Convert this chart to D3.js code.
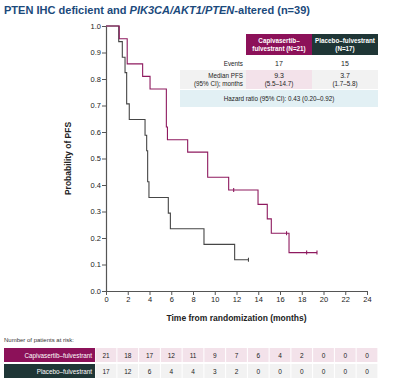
<!DOCTYPE html>
<html>
<head>
<meta charset="utf-8">
<script src="https://cdn.jsdelivr.net/npm/d3@7"></script>
<style>
  body { margin: 0; background: #fff; }
  svg { font-family: "Liberation Sans", Arial, sans-serif; }
</style>
</head>
<body>
<div id="chart"></div>
<script>
// Kaplan-Meier steps: [time, survival after step]
const capiSteps = [[0, 1], [1.22, 0.952], [1.95, 0.857], [3.37, 0.81], [4.05, 0.762],
    [5.55, 0.619], [5.65, 0.571], [7.51, 0.524], [9.35, 0.429], [11.28, 0.381],
    [13.98, 0.327], [14.83, 0.272], [15.2, 0.218], [16.83, 0.145], [19.4, 0.145]];
const capiCensor = [[11.74, 0.381], [16.6, 0.218], [18.45, 0.145], [19.4, 0.145]];

const placeboSteps = [[0, 1], [1.17, 0.941], [1.5, 0.882], [1.75, 0.824], [1.9, 0.706],
    [2.14, 0.647], [3.59, 0.588], [3.74, 0.529], [3.83, 0.412], [3.95, 0.353],
    [5.73, 0.294], [5.92, 0.235], [9.01, 0.176], [11.83, 0.118], [13.1, 0.118]];
const placeboCensor = [[13.1, 0.118]];

const xTicks = d3.range(0, 25, 2);
const yTicks = d3.range(0, 1.01, 0.1);

const riskGroups = ["Capivasertib–fulvestrant", "Placebo–fulvestrant"];
const capiAtRisk = [21, 18, 17, 12, 11, 9, 7, 6, 4, 2, 0, 0, 0];
const placeboAtRisk = [17, 12, 6, 4, 4, 3, 2, 0, 0, 0, 0, 0, 0];

const headers = [["Capivasertib–", "fulvestrant (N=21)"], ["Placebo–fulvestrant", "(N=17)"]];
const eventCounts = ["17", "15"];
const medianPFS = [["9.3", "(5.5–14.7)"], ["3.7", "(1.7–5.8)"]];
const hazardText = "Hazard ratio (95% CI): 0.43 (0.20–0.92)";

const magenta = "#8c1159";
const teal = "#1f3636";
const capiLine = "#8e1a5f";
const placeboLine = "#464646";

const W = 401, H = 384;
const svg = d3.select("#chart").append("svg")
    .attr("width", W).attr("height", H);

// scales
const x = d3.scaleLinear().domain([0, 24]).range([106, 367]);
const y = d3.scaleLinear().domain([0, 1]).range([291, 26]);

// title
const title = svg.append("text")
    .attr("x", 4).attr("y", 14)
    .attr("fill", "#1b4a7c")
    .style("font-size", "11.5px").style("font-weight", "bold")
    .attr("textLength", 306).attr("lengthAdjust", "spacingAndGlyphs");
title.append("tspan").text("PTEN IHC deficient and ");
title.append("tspan").style("font-style", "italic").text("PIK3CA/AKT1/PTEN");
title.append("tspan").text("-altered (n=39)");

// axes
const xAxis = svg.append("g")
    .attr("transform", `translate(0,${y(0)})`)
    .call(d3.axisBottom(x).tickValues(xTicks).tickSize(4).tickSizeOuter(0).tickFormat(d3.format("d")));
const yAxis = svg.append("g")
    .attr("transform", `translate(${x(0)},0)`)
    .call(d3.axisLeft(y).tickValues(yTicks).tickSize(4).tickSizeOuter(0).tickFormat(d3.format(".1f")));

[xAxis, yAxis].forEach(g => {
    g.select(".domain").attr("stroke", "#555").attr("stroke-width", 1.2);
    g.selectAll(".tick line").attr("stroke", "#555");
    g.selectAll(".tick text").attr("fill", "#222").style("font-size", "7.5px")
        .style("font-family", "Liberation Sans, Arial, sans-serif");
});
yAxis.selectAll(".tick text").attr("x", -5);
xAxis.selectAll(".tick text").attr("y", 6);

svg.append("text")
    .attr("x", (x(0) + x(24)) / 2).attr("y", 321)
    .attr("text-anchor", "middle")
    .style("font-size", "8.5px").style("font-weight", "bold").attr("fill", "#222")
    .text("Time from randomization (months)");

svg.append("text")
    .attr("transform", `translate(71,${(y(0) + y(1)) / 2}) rotate(-90)`)
    .attr("text-anchor", "middle")
    .style("font-size", "8.5px").style("font-weight", "bold").attr("fill", "#222")
    .text("Probability of PFS");

// KM curves
const line = d3.line().x(d => x(d[0])).y(d => y(d[1])).curve(d3.curveStepAfter);

svg.append("path").datum(placeboSteps)
    .attr("d", line).attr("fill", "none")
    .attr("stroke", placeboLine).attr("stroke-width", 1.1);
svg.append("path").datum(capiSteps)
    .attr("d", line).attr("fill", "none")
    .attr("stroke", capiLine).attr("stroke-width", 1.1);

function drawCensor(data, color) {
    svg.selectAll(null).data(data).enter().append("line")
        .attr("x1", d => x(d[0])).attr("x2", d => x(d[0]))
        .attr("y1", d => y(d[1]) - 2).attr("y2", d => y(d[1]) + 2)
        .attr("stroke", color).attr("stroke-width", 1.1);
}
drawCensor(capiCensor, capiLine);
drawCensor(placeboCensor, placeboLine);

// summary table
const colX = [246, 312];
const colW = 66;
const labelRight = 243;
const tbl = svg.append("g");

headers.forEach((h, i) => {
    tbl.append("rect").attr("x", colX[i]).attr("y", 34).attr("width", colW).attr("height", 21)
        .attr("fill", i === 0 ? magenta : teal);
    h.forEach((t, j) => {
        tbl.append("text").attr("x", colX[i] + colW / 2).attr("y", 43 + j * 8)
            .attr("text-anchor", "middle").attr("fill", "#fff")
            .style("font-size", "6.3px").style("font-weight", "bold").text(t);
    });
});

tbl.append("text").attr("x", labelRight).attr("y", 66).attr("text-anchor", "end")
    .style("font-size", "6.3px").attr("fill", "#222").text("Events");
eventCounts.forEach((t, i) => {
    tbl.append("text").attr("x", colX[i] + colW / 2).attr("y", 66).attr("text-anchor", "middle")
        .style("font-size", "7px").attr("fill", "#222").text(t);
});

tbl.append("rect").attr("x", 180).attr("y", 70).attr("width", 66).attr("height", 19).attr("fill", "#f2f2f2");
tbl.append("rect").attr("x", colX[0]).attr("y", 70).attr("width", colW).attr("height", 19).attr("fill", "#f3e2ea");
tbl.append("rect").attr("x", colX[1]).attr("y", 70).attr("width", colW).attr("height", 19).attr("fill", "#f2f2f2");
["Median PFS", "(95% CI); months"].forEach((t, j) => {
    tbl.append("text").attr("x", labelRight).attr("y", 78 + j * 8).attr("text-anchor", "end")
        .style("font-size", "6.3px").attr("fill", "#222").text(t);
});
medianPFS.forEach((m, i) => {
    m.forEach((t, j) => {
        tbl.append("text").attr("x", colX[i] + colW / 2).attr("y", 78 + j * 8).attr("text-anchor", "middle")
            .style("font-size", j === 0 ? "7px" : "6.3px").attr("fill", "#222").text(t);
    });
});

tbl.append("rect").attr("x", 180).attr("y", 90).attr("width", 198).attr("height", 17).attr("fill", "#e2f0f4");
tbl.append("text").attr("x", 279).attr("y", 101).attr("text-anchor", "middle")
    .style("font-size", "6.3px").attr("fill", "#222").text(hazardText);

// number at risk
svg.append("text").attr("x", 4).attr("y", 342)
    .style("font-size", "6px").attr("fill", "#333").text("Number of patients at risk:");

const riskRows = [capiAtRisk, placeboAtRisk];
const rowY = [348, 364];
const rowH = 14;
const cellW = x(2) - x(0);
riskRows.forEach((vals, r) => {
    svg.append("rect").attr("x", 4).attr("y", rowY[r]).attr("width", 91).attr("height", rowH)
        .attr("fill", r === 0 ? magenta : teal);
    svg.append("text").attr("x", 92).attr("y", rowY[r] + 9.5).attr("text-anchor", "end")
        .attr("fill", "#fff").style("font-size", "6.3px").text(riskGroups[r]);
    svg.selectAll(null).data(vals).enter().append("rect")
        .attr("x", (d, i) => x(xTicks[i]) - cellW / 2 + 0.5)
        .attr("y", rowY[r]).attr("width", cellW - 1).attr("height", rowH)
        .attr("fill", r === 0 ? "#f3e2ea" : "#f2f2f2");
    svg.selectAll(null).data(vals).enter().append("text")
        .attr("x", (d, i) => x(xTicks[i])).attr("y", rowY[r] + 9.5)
        .attr("text-anchor", "middle").attr("fill", "#222").style("font-size", "6.5px")
        .text(d => d);
});
</script>
</body>
</html>
